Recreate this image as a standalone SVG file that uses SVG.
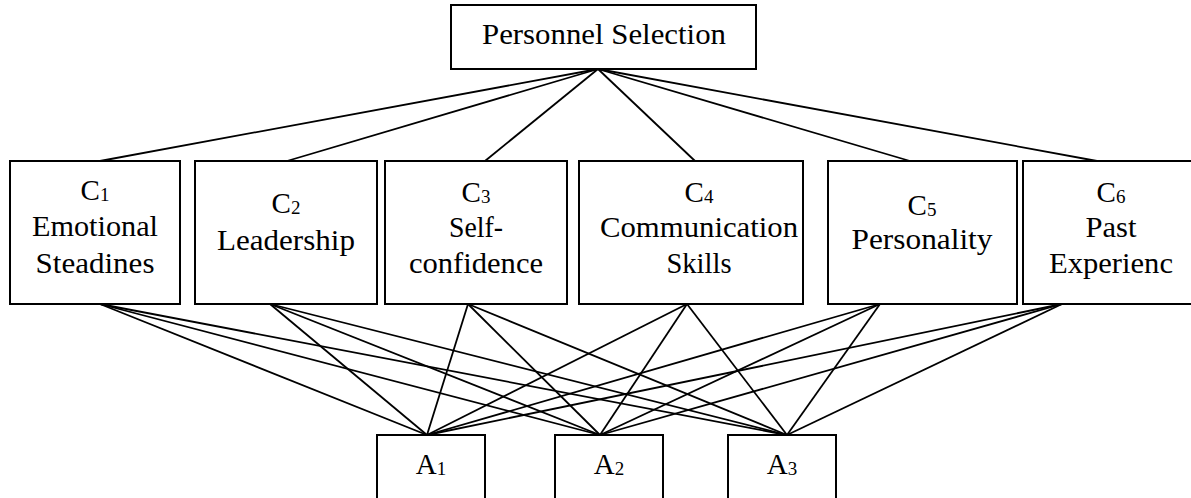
<svg xmlns="http://www.w3.org/2000/svg" width="1191" height="498" viewBox="0 0 1191 498">
<style>
.box{fill:#fff;stroke:#000;stroke-width:2}
.t{font-family:"Liberation Serif","DejaVu Serif",serif;font-size:29px;text-anchor:middle;fill:#000}
.s{font-size:19px}
.conn line{stroke:#000;stroke-width:1.8}
</style>
<rect width="1191" height="498" fill="#fff"/>
<g class="conn">
<line x1="598" y1="69" x2="100" y2="161"/>
<line x1="598" y1="69" x2="287" y2="161"/>
<line x1="598" y1="69" x2="485" y2="161"/>
<line x1="598" y1="69" x2="695" y2="161"/>
<line x1="598" y1="69" x2="910" y2="161"/>
<line x1="598" y1="69" x2="1097" y2="161"/>
<line x1="100" y1="304" x2="427" y2="435"/>
<line x1="100" y1="304" x2="600" y2="435"/>
<line x1="100" y1="304" x2="787" y2="435"/>
<line x1="270" y1="304" x2="427" y2="435"/>
<line x1="270" y1="304" x2="600" y2="435"/>
<line x1="270" y1="304" x2="787" y2="435"/>
<line x1="468" y1="304" x2="427" y2="435"/>
<line x1="468" y1="304" x2="600" y2="435"/>
<line x1="468" y1="304" x2="787" y2="435"/>
<line x1="687" y1="304" x2="427" y2="435"/>
<line x1="687" y1="304" x2="600" y2="435"/>
<line x1="687" y1="304" x2="787" y2="435"/>
<line x1="880" y1="304" x2="427" y2="435"/>
<line x1="880" y1="304" x2="600" y2="435"/>
<line x1="880" y1="304" x2="787" y2="435"/>
<line x1="1062" y1="304" x2="427" y2="435"/>
<line x1="1062" y1="304" x2="600" y2="435"/>
<line x1="1062" y1="304" x2="787" y2="435"/>
</g>
<g id="goal">
<rect class="box" x="451" y="5" width="305" height="64"/>
<text class="t" x="604" y="44" textLength="244" lengthAdjust="spacingAndGlyphs">Personnel Selection</text>
</g>
<g id="c1">
<rect class="box" x="10" y="161" width="170" height="143"/>
<text class="t" x="95" y="200">C<tspan class="s" dy="1">1</tspan></text>
<text class="t" x="95" y="236" textLength="126" lengthAdjust="spacingAndGlyphs">Emotional</text>
<text class="t" x="95" y="273" textLength="119" lengthAdjust="spacingAndGlyphs">Steadines</text>
</g>
<g id="c2">
<rect class="box" x="195" y="161" width="182" height="143"/>
<text class="t" x="286" y="213">C<tspan class="s" dy="1">2</tspan></text>
<text class="t" x="286" y="250" textLength="138" lengthAdjust="spacingAndGlyphs">Leadership</text>
</g>
<g id="c3">
<rect class="box" x="385" y="161" width="182" height="143"/>
<text class="t" x="476" y="202">C<tspan class="s" dy="1">3</tspan></text>
<text class="t" x="476" y="237" textLength="54" lengthAdjust="spacingAndGlyphs">Self-</text>
<text class="t" x="476" y="273" textLength="134" lengthAdjust="spacingAndGlyphs">confidence</text>
</g>
<g id="c4">
<rect class="box" x="579" y="161" width="224" height="143"/>
<text class="t" x="699" y="202">C<tspan class="s" dy="1">4</tspan></text>
<text class="t" x="699" y="237" textLength="198" lengthAdjust="spacingAndGlyphs">Communication</text>
<text class="t" x="699" y="273" textLength="65" lengthAdjust="spacingAndGlyphs">Skills</text>
</g>
<g id="c5">
<rect class="box" x="828" y="161" width="189" height="143"/>
<text class="t" x="922" y="215">C<tspan class="s" dy="1">5</tspan></text>
<text class="t" x="922" y="249" textLength="141" lengthAdjust="spacingAndGlyphs">Personality</text>
</g>
<g id="c6">
<rect class="box" x="1023" y="161" width="175" height="143"/>
<text class="t" x="1111" y="202">C<tspan class="s" dy="1">6</tspan></text>
<text class="t" x="1111" y="237" textLength="51" lengthAdjust="spacingAndGlyphs">Past</text>
<text class="t" x="1111" y="273" textLength="124" lengthAdjust="spacingAndGlyphs">Experienc</text>
</g>
<g id="a1">
<rect class="box" x="377" y="435" width="108" height="75"/>
<text class="t" x="431" y="474">A<tspan class="s" dy="1">1</tspan></text>
</g>
<g id="a2">
<rect class="box" x="555" y="435" width="108" height="75"/>
<text class="t" x="609" y="474">A<tspan class="s" dy="1">2</tspan></text>
</g>
<g id="a3">
<rect class="box" x="728" y="435" width="108" height="75"/>
<text class="t" x="782" y="474">A<tspan class="s" dy="1">3</tspan></text>
</g>
</svg>
